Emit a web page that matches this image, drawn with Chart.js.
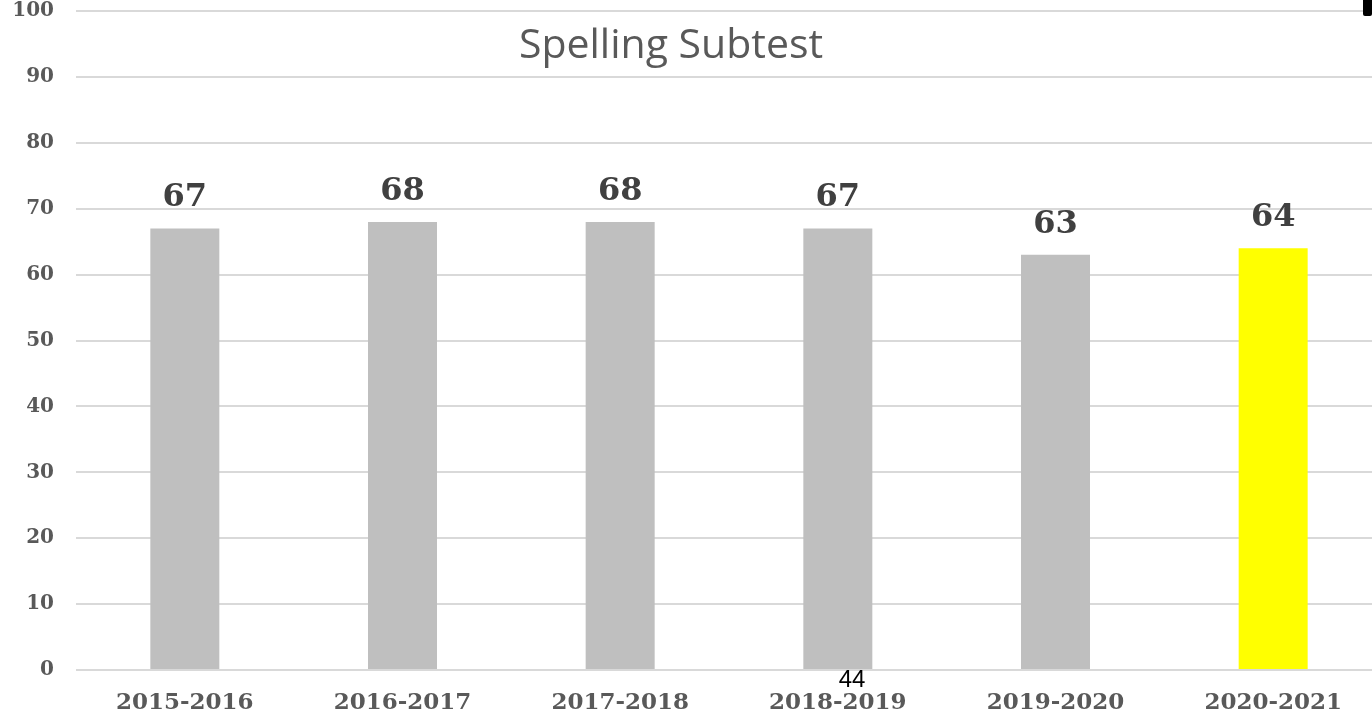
<!DOCTYPE html>
<html>
<head>
<meta charset="utf-8">
<script src="https://cdn.jsdelivr.net/npm/chart.js@4.4.1/dist/chart.umd.min.js"></script>
<style>
  html, body { margin: 0; padding: 0; background: #fff; overflow: hidden; }
  #wrap { position: relative; width: 1382px; height: 719px; }
  #pageNum {
    position: absolute; left: 826px; width: 52px; top: 667px;
    font: 24px "Liberation Sans", Arial, sans-serif; line-height: 24px;
    color: #000; text-align: center;
  }
  #corner {
    position: absolute; left: 1363px; top: 0; width: 9px; height: 16px;
    background: #000; border-radius: 0 0 2px 2px;
  }
</style>
</head>
<body>
<div id="wrap">
  <canvas id="chart" width="1382" height="719"></canvas>
  <div id="pageNum">44</div>
  <div id="corner"></div>
</div>
<script>
const years = ["2015-2016", "2016-2017", "2017-2018", "2018-2019", "2019-2020", "2020-2021"];
const scores = [67, 68, 68, 67, 63, 64];
const barColors = ["#bfbfbf", "#bfbfbf", "#bfbfbf", "#bfbfbf", "#bfbfbf", "#ffff00"];
const chartTitle = "Spelling Subtest";

const serif = '"DejaVu Serif", Georgia, serif';

// bold value above each bar
const valueLabels = {
  id: "valueLabels",
  afterDatasetsDraw(chart) {
    const { ctx } = chart;
    const meta = chart.getDatasetMeta(0);
    ctx.save();
    ctx.font = "bold 32px " + serif;
    ctx.fillStyle = "#404040";
    ctx.textAlign = "center";
    ctx.textBaseline = "alphabetic";
    meta.data.forEach((bar, i) => {
      ctx.fillText(String(scores[i]), bar.x, bar.y - 22);
    });
    ctx.restore();
  }
};

// title sits inside the plot, over the grid
const floatingTitle = {
  id: "floatingTitle",
  afterDraw(chart) {
    const { ctx } = chart;
    ctx.save();
    ctx.font = '41px "Open Sans", sans-serif';
    ctx.fillStyle = "#595959";
    ctx.textAlign = "center";
    ctx.textBaseline = "alphabetic";
    ctx.fillText(chartTitle, 671, 58);
    ctx.restore();
  }
};

new Chart(document.getElementById("chart"), {
  type: "bar",
  data: {
    labels: years,
    datasets: [{
      data: scores,
      backgroundColor: barColors,
      barPercentage: 0.634,
      categoryPercentage: 0.5,
    }]
  },
  options: {
    responsive: false,
    animation: false,
    layout: { padding: { top: 11, right: 0, left: 0, bottom: 0 } },
    plugins: {
      legend: { display: false },
      tooltip: { enabled: false },
    },
    scales: {
      y: {
        min: 0,
        max: 100,
        ticks: {
          stepSize: 10,
          padding: 22,
          color: "#595959",
          font: { family: serif, size: 20, weight: "bold", lineHeight: 1 },
        },
        grid: { color: "#d9d9d9", lineWidth: 2, drawTicks: false },
        border: { display: false },
        afterFit(scale) {
          scale.width = 76;
          scale.paddingTop = 0;
          scale.paddingBottom = 0;
        },
      },
      x: {
        ticks: {
          padding: 22,
          color: "#595959",
          font: { family: serif, size: 23, weight: "bold", lineHeight: 1 },
        },
        grid: { display: false, drawTicks: false },
        border: { display: false },
        afterFit(scale) {
          scale.height = 49;
          scale.paddingLeft = 0;
          scale.paddingRight = 0;
        },
      }
    }
  },
  plugins: [valueLabels, floatingTitle]
});
</script>
</body>
</html>
